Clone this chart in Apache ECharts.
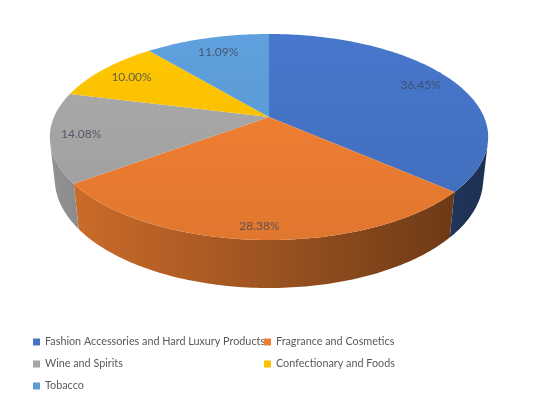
<!DOCTYPE html>
<html lang="en">
<head>
  <meta charset="UTF-8">
  <title>chart</title>
  <style>
    html, body { margin: 0; padding: 0; background: #fff; }
    #main { width: 541px; height: 400px; }
  </style>
</head>
<body>
  <div id="main"></div>
  <script src="https://cdn.jsdelivr.net/npm/echarts@6/dist/echarts.min.js"></script>
  <script>
    var categories = ['Fashion Accessories and Hard Luxury Products', 'Fragrance and Cosmetics', 'Wine and Spirits', 'Confectionary and Foods', 'Tobacco'];
    var shares = [36.45, 28.38, 14.08, 10.00, 11.09];
    var colors = ['#4472C4', '#ED7D31', '#A5A5A5', '#FFC000', '#5B9BD5'];

    // camera for the tilted disc
    var cx = 269, cy = 117;
    var F = 982.6, D = 4.57, H = 0.223;
    var sinA = 0.461, cosA = 0.887;

    function proj(X, Y, Z) {
      var up = Y * cosA - Z * sinA;
      var depth = D - (Y * sinA + Z * cosA);
      return [cx + F * X / depth, cy - F * up / depth];
    }
    function rim(deg, Y, r) {
      var a = deg * Math.PI / 180;
      r = r || 1;
      return proj(Math.sin(a) * r, Y, -Math.cos(a) * r);
    }
    function shade(hex, k) {
      var n = parseInt(hex.slice(1), 16);
      var c = [(n >> 16) & 255, (n >> 8) & 255, n & 255].map(function (v) {
        return Math.max(0, Math.min(255, Math.round(v * k)));
      });
      return 'rgb(' + c.join(',') + ')';
    }

    var total = shares.reduce(function (a, b) { return a + b; }, 0);
    var starts = [], acc = 0;
    shares.forEach(function (v) { starts.push(acc / total * 360); acc += v; });

    // side wall only faces the viewer between these angles
    var zVis = 1 / (D * cosA);
    var wallFrom = 180 - Math.acos(zVis) * 180 / Math.PI;
    var wallTo = 180 + Math.acos(zVis) * 180 / Math.PI;

    function arc(a1, a2, Y) {
      var pts = [], n = Math.max(2, Math.ceil((a2 - a1) / 1));
      for (var i = 0; i <= n; i++) pts.push(rim(a1 + (a2 - a1) * i / n, Y));
      return pts;
    }

    function renderSlice(params, api) {
      var i = params.dataIndex;
      var a1 = starts[i];
      var a2 = a1 + api.value(0) / total * 360;
      var col = colors[i];
      var children = [];

      var w1 = Math.max(a1, wallFrom), w2 = Math.min(a2, wallTo);
      if (w2 > w1) {
        var wall = arc(w1, w2, 0).concat(arc(w1, w2, -H).reverse());
        children.push({
          type: 'polygon',
          shape: { points: wall },
          style: {
            fill: new echarts.graphic.LinearGradient(50, 0, 488, 0, [
              { offset: 0, color: shade(col, 0.88) },
              { offset: 0.5, color: shade(col, 0.66) },
              { offset: 1, color: shade(col, 0.42) }
            ], true)
          }
        });
      }

      var top = [proj(0, 0, 0)].concat(arc(a1, a2, 0));
      children.push({
        type: 'polygon',
        shape: { points: top },
        style: {
          fill: new echarts.graphic.LinearGradient(0, 34, 0, 240, [
            { offset: 0, color: shade(col, 1.04) },
            { offset: 1, color: shade(col, 0.95) }
          ], true)
        }
      });

      var mid = (a1 + a2) / 2;
      var z = -Math.cos(mid * Math.PI / 180);
      var lp = rim(mid, 0, 0.85 + 0.06 * z);
      children.push({
        type: 'text',
        x: lp[0], y: lp[1],
        style: {
          text: api.value(0).toFixed(2) + '%',
          fill: 'rgba(64,70,90,0.8)',
          font: '12px Lato',
          align: 'center',
          verticalAlign: 'middle'
        }
      });
      return { type: 'group', children: children };
    }

    var chart = echarts.init(document.getElementById('main'));
    var legendText = { color: '#595959', fontSize: 10.8, fontFamily: 'Lato', lineHeight: 14 };
    chart.setOption({
      animation: false,
      color: colors,
      legend: [{
        data: [categories[0], categories[2], categories[4]],
        orient: 'vertical', left: 33, top: 335,
        padding: 0, itemWidth: 7, itemHeight: 7, itemGap: 8,
        icon: 'rect', textStyle: legendText
      }, {
        data: [categories[1], categories[3]],
        orient: 'vertical', left: 264, top: 335,
        padding: 0, itemWidth: 7, itemHeight: 7, itemGap: 8,
        icon: 'rect', textStyle: legendText
      }],
      series: [{
        // only feeds the legend, kept off canvas
        type: 'pie',
        center: [-500, -500],
        radius: 1,
        silent: true,
        label: { show: false },
        labelLine: { show: false },
        data: categories.map(function (c, i) { return { name: c, value: shares[i] }; })
      }, {
        type: 'custom',
        coordinateSystem: 'none',
        silent: true,
        renderItem: renderSlice,
        data: shares.map(function (v, i) { return { name: categories[i], value: [v] }; })
      }]
    });
  </script>
</body>
</html>
